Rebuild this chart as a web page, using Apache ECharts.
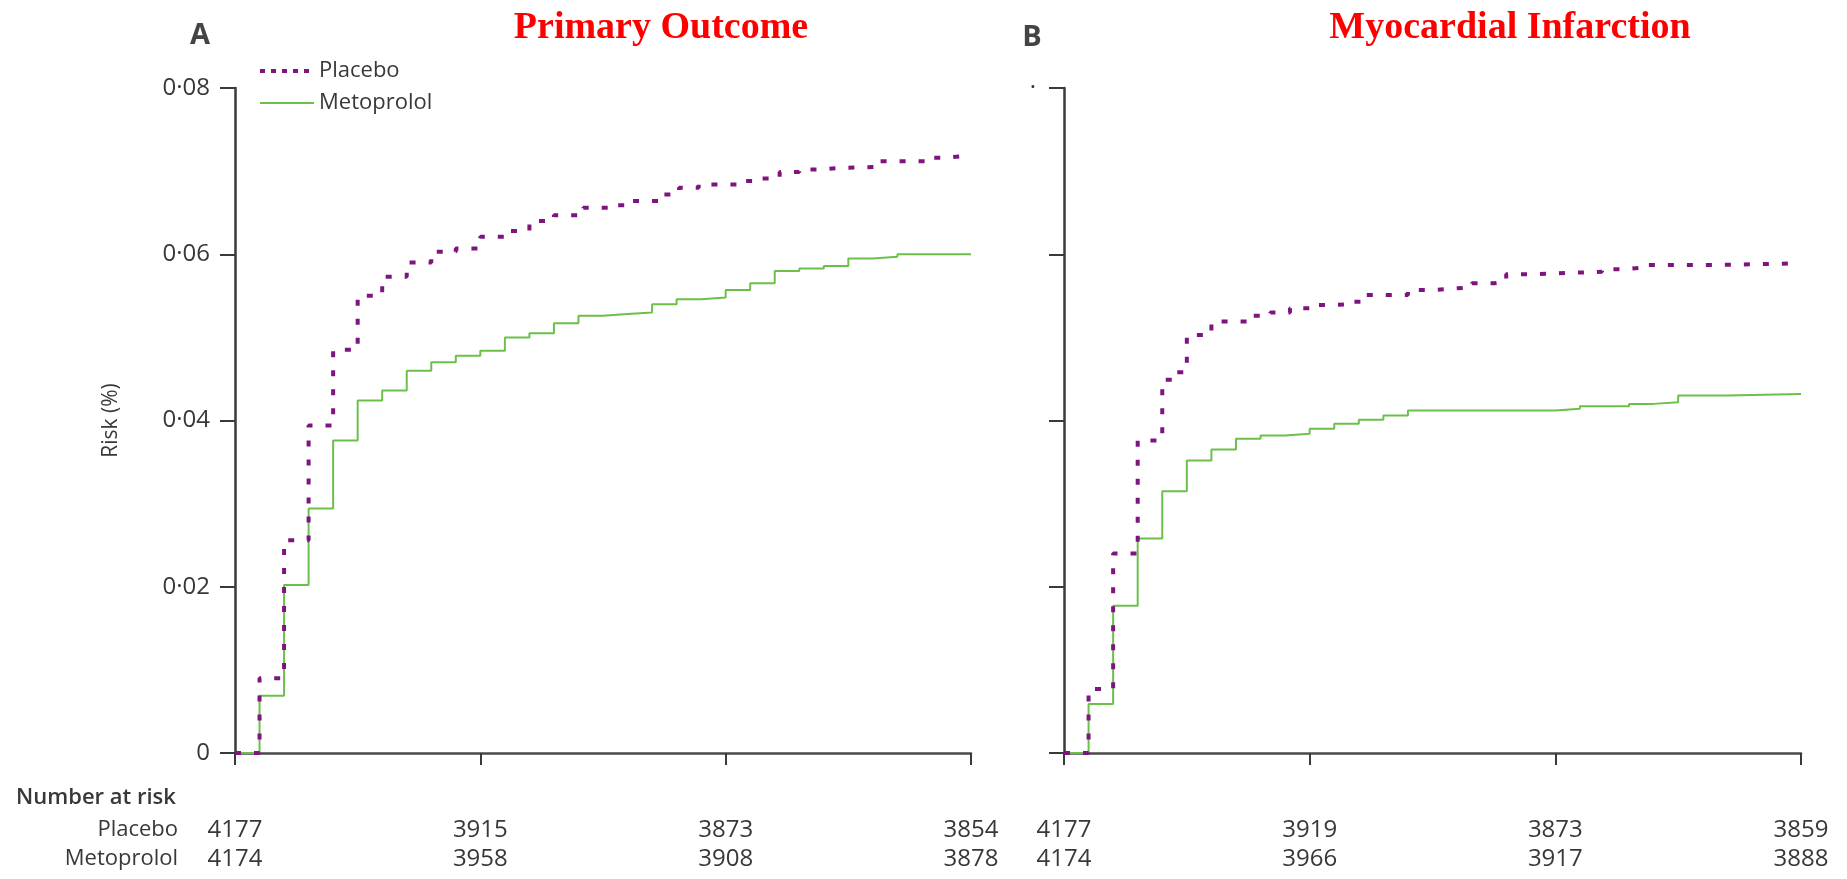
<!DOCTYPE html>
<html><head><meta charset="utf-8">
<script src="https://cdn.jsdelivr.net/npm/echarts@6/dist/echarts.min.js"></script>
<style>html,body{margin:0;padding:0;background:#fff}#c{width:1847px;height:879px}</style>
</head><body><div id="c"></div>
<script>
// ---------- data (day, cumulative risk) ----------
const xTickDays = [0, 10, 20, 30];
const yTickLabels = ['0', '0·02', '0·04', '0·06', '0·08'];
const yTickValues = [0, 0.02, 0.04, 0.06, 0.08];

const placeboA = [[0,0],[1,0.009],[2,0.0256],[3,0.0394],[4,0.0485],[5,0.055],[6,0.0573],[7,0.059],[8,0.0603],[9,0.0607],[10,0.0621],[11,0.0628],[12,0.064],[13,0.0647],[14.2,0.0656],[15.2,0.0659],[16,0.0664],[17.4,0.0672],[18.1,0.068],[18.9,0.0684],[20.5,0.0688],[21.4,0.0691],[22.2,0.0699],[23,0.0702],[23.8,0.0704],[24.8,0.0705],[26.3,0.0712],[28.2,0.0716],[29,0.0718],[29.6,0.0718]];
const metoprololA = [[0,0],[1,0.0069],[2,0.0202],[3,0.0294],[4,0.0376],[5,0.0424],[6,0.0436],[7,0.046],[8,0.047],[9,0.0478],[10,0.0484],[11,0.05],[12,0.0505],[13,0.0517],[14,0.0526],[15,0.0528],[16,0.053],[17,0.054],[18,0.0546],[19,0.0548],[20,0.0557],[21,0.0565],[22,0.058],[23,0.0583],[24,0.0586],[25,0.0595],[26,0.0597],[27,0.060],[30,0.060]];
const placeboB = [[0,0],[1,0.0077],[2,0.024],[3,0.0376],[4,0.0449],[4.6,0.0458],[5,0.0503],[6,0.0519],[7.6,0.0526],[8.4,0.053],[9.2,0.0535],[10,0.0539],[10.9,0.054],[11.8,0.0543],[12.3,0.0551],[14,0.0557],[15,0.0559],[16,0.056],[16.6,0.0565],[17.5,0.0567],[18,0.0576],[19,0.0577],[20,0.0578],[21,0.0579],[21.9,0.0582],[22.8,0.0584],[23.6,0.0587],[26.5,0.0589],[29.8,0.0589]];
const metoprololB = [[0,0],[1,0.0059],[2,0.0177],[3,0.0258],[4,0.0315],[5,0.0352],[6,0.0365],[7,0.0378],[8,0.0382],[9,0.0384],[10,0.039],[11,0.0396],[12,0.0401],[13,0.0406],[14,0.0412],[20,0.0414],[21,0.0417],[23,0.042],[24,0.0422],[25,0.043],[27,0.0432],[30,0.0432]];

const atRiskPlaceboA = [4177, 3915, 3873, 3854];
const atRiskMetoprololA = [4174, 3958, 3908, 3878];
const atRiskPlaceboB = [4177, 3919, 3873, 3859];
const atRiskMetoprololB = [4174, 3966, 3917, 3888];

const panelTitles = ['Primary Outcome', 'Myocardial Infarction'];
const panelLetters = ['A', 'B'];

// ---------- styles ----------
const FONT = 'Open Sans';
const TXT = '#383838';
const PURPLE = '#7d1480';
const GREEN = '#6cc04a';

const chart = echarts.init(document.getElementById('c'));

function mainX(grid) {
  return {
    type: 'value', gridIndex: grid, min: 0, max: 30, interval: 10,
    axisLine: { show: true, lineStyle: { color: '#4a4a4a', width: 2.5 } },
    axisTick: { show: true, length: 12, lineStyle: { color: '#3a3a3a', width: 2 } },
    axisLabel: { show: false }, splitLine: { show: false }
  };
}
function rowX(grid, offset, arr) {
  return {
    type: 'value', gridIndex: grid, min: 0, max: 30, interval: 10, position: 'bottom', offset: offset,
    axisLine: { show: false }, axisTick: { show: false }, splitLine: { show: false },
    axisLabel: { show: true, margin: 0, showMinLabel: true, showMaxLabel: true,
      fontFamily: FONT, fontSize: 24, lineHeight: 24, color: TXT,
      formatter: v => String(arr[xTickDays.indexOf(v)]) }
  };
}
function mainY(grid, showLabels) {
  return {
    type: 'value', gridIndex: grid, min: 0, max: 0.08, interval: 0.02,
    axisLine: { show: true, lineStyle: { color: '#3a3a3a', width: 2.5 } },
    axisTick: { show: true, length: 15, lineStyle: { color: '#3a3a3a', width: 2 } },
    splitLine: { show: false },
    axisLabel: { show: true, margin: showLabels ? 25 : 28, fontFamily: FONT, fontSize: 24, color: TXT,
      formatter: v => {
        const i = yTickValues.findIndex(t => Math.abs(t - v) < 1e-9);
        if (showLabels) return yTickLabels[i];
        return i === yTickValues.length - 1 ? '·' : '';
      } },
    name: showLabels ? 'Risk (%)' : '', nameLocation: 'middle', nameRotate: 90, nameGap: 113,
    nameTextStyle: { fontFamily: FONT, fontSize: 21, color: TXT }
  };
}
function placeboSeries(name, x, y, data) {
  return { name: name, type: 'line', step: 'end', xAxisIndex: x, yAxisIndex: y, data: data,
    symbol: 'none', z: 3, lineStyle: { color: PURPLE, width: 4, type: [6, 13] }, itemStyle: { color: PURPLE } };
}
function metoSeries(name, x, y, data) {
  return { name: name, type: 'line', step: 'end', xAxisIndex: x, yAxisIndex: y, data: data,
    symbol: 'none', z: 2, lineStyle: { color: GREEN, width: 2 }, itemStyle: { color: GREEN } };
}

const option = {
  backgroundColor: '#ffffff',
  animation: false,
  grid: [
    { left: 235, top: 88, width: 736, height: 665 },
    { left: 1064, top: 88, width: 737, height: 665 }
  ],
  xAxis: [
    mainX(0), mainX(1),
    rowX(0, 65, atRiskPlaceboA), rowX(0, 94, atRiskMetoprololA),
    rowX(1, 65, atRiskPlaceboB), rowX(1, 94, atRiskMetoprololB)
  ],
  yAxis: [ mainY(0, true), mainY(1, false) ],
  legend: {
    orient: 'vertical', left: 258, top: 60, padding: 0, itemWidth: 54, itemHeight: 14, itemGap: 10,
    itemStyle: { opacity: 0, color: 'rgba(0,0,0,0)', borderWidth: 0 },
    textStyle: { fontFamily: FONT, fontSize: 22, color: TXT, lineHeight: 22 },
    data: [
      { name: 'Placebo', lineStyle: { type: [5, 6], width: 4 } },
      { name: 'Metoprolol' }
    ]
  },
  series: [
    metoSeries('Metoprolol', 0, 0, metoprololA),
    placeboSeries('Placebo', 0, 0, placeboA),
    metoSeries('Metoprolol', 1, 1, metoprololB),
    placeboSeries('Placebo', 1, 1, placeboB)
  ],
  graphic: [
    { type: 'text', x: 661, y: 28, style: { text: panelTitles[0], fill: '#ff0000', font: 'bold 38px "Liberation Serif", "Times New Roman", serif', textAlign: 'center', textVerticalAlign: 'middle' } },
    { type: 'text', x: 1510, y: 28, style: { text: panelTitles[1], fill: '#ff0000', font: 'bold 38px "Liberation Serif", "Times New Roman", serif', textAlign: 'center', textVerticalAlign: 'middle' } },
    { type: 'text', x: 200, y: 36, style: { text: panelLetters[0], fill: '#444', font: 'bold 29px "Open Sans"', textAlign: 'center', textVerticalAlign: 'middle' } },
    { type: 'text', x: 1032, y: 38, style: { text: panelLetters[1], fill: '#444', font: 'bold 29px "Open Sans"', textAlign: 'center', textVerticalAlign: 'middle' } },
    { type: 'text', x: 16, y: 798, style: { text: 'Number at risk', fill: TXT, font: '600 22px "Open Sans"', textAlign: 'left', textVerticalAlign: 'middle' } },
    { type: 'text', x: 178, y: 830, style: { text: 'Placebo', fill: TXT, font: '22px "Open Sans"', textAlign: 'right', textVerticalAlign: 'middle' } },
    { type: 'text', x: 178, y: 859, style: { text: 'Metoprolol', fill: TXT, font: '22px "Open Sans"', textAlign: 'right', textVerticalAlign: 'middle' } }
  ]
};
chart.setOption(option);
</script>
</body></html>
